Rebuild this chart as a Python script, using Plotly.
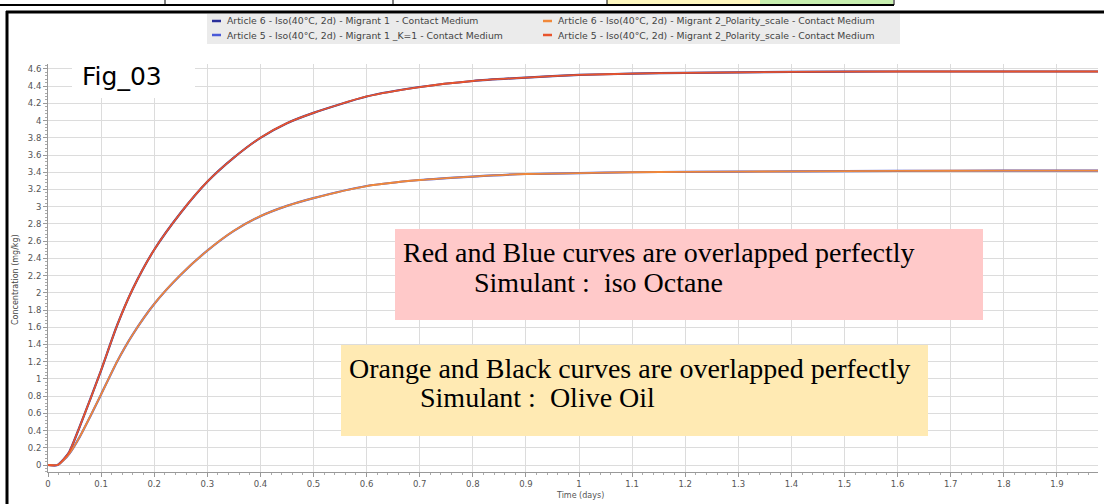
import plotly.graph_objects as go

# ---------------- data ----------------
time_days = [0, 0.018, 0.03, 0.04, 0.06, 0.08, 0.1, 0.13, 0.16, 0.2, 0.25, 0.3, 0.35,
             0.4, 0.45, 0.5, 0.6, 0.7, 0.8, 0.9, 1.0, 1.1, 1.2, 1.4, 1.6, 1.8, 2.0]
upper_conc = [0, 0, 0.07, 0.15, 0.45, 0.77, 1.1, 1.62, 2.05, 2.5, 2.93, 3.29, 3.57,
              3.8, 3.97, 4.09, 4.28, 4.39, 4.46, 4.5, 4.53, 4.545, 4.555, 4.565, 4.57, 4.57, 4.57]
lower_conc = [0, 0, 0.06, 0.13, 0.33, 0.57, 0.82, 1.2, 1.52, 1.87, 2.21, 2.49, 2.72,
              2.89, 3.01, 3.1, 3.24, 3.31, 3.35, 3.38, 3.39, 3.4, 3.405, 3.41, 3.415, 3.42, 3.42]

series_names = [
    "Article 6 - Iso(40°C, 2d) - Migrant 1  - Contact Medium",
    "Article 5 - Iso(40°C, 2d) - Migrant 1 _K=1 - Contact Medium",
    "Article 6 - Iso(40°C, 2d) - Migrant 2_Polarity_scale - Contact Medium",
    "Article 5 - Iso(40°C, 2d) - Migrant 2_Polarity_scale - Contact Medium",
]
series_colors = ["#2a2f9a", "#4a5ad8", "#f0883a", "#e8542c"]
series_values = [upper_conc, lower_conc, lower_conc, upper_conc]
draw_order = [0, 1, 2, 3]

x_ticks = [round(0.1 * i, 1) for i in range(0, 20)]
y_ticks = [round(0.2 * i, 1) for i in range(0, 24)]

# ---------------- geometry ----------------
W, H = 1104, 504
L, R, T, B = 48, 6, 64, 32
PW, PH = W - L - R, H - T - B


def px(x):
    return (x - L) / PW


def py(y):
    return (H - B - y) / PH


fig = go.Figure()
for i in draw_order:
    fig.add_trace(go.Scatter(
        x=time_days, y=series_values[i], mode="lines", name=series_names[i],
        line=dict(color=series_colors[i], width=2.2 if i < 2 else 1.8,
                  shape="spline", smoothing=0.6),
        showlegend=False))

shapes = []
annotations = []

# top strip (table fragment)
shapes.append(dict(type="rect", xref="paper", yref="paper", x0=px(607), x1=px(760),
                   y0=py(5), y1=py(0), fillcolor="#fff8c0", line=dict(width=0), layer="above"))
shapes.append(dict(type="rect", xref="paper", yref="paper", x0=px(760), x1=px(893),
                   y0=py(5), y1=py(0), fillcolor="#c8f0b0", line=dict(width=0), layer="above"))
shapes.append(dict(type="line", xref="paper", yref="paper", x0=px(0), x1=px(894),
                   y0=py(5), y1=py(5), line=dict(color="black", width=2), layer="above"))
for xd in [165, 393, 607, 894]:
    shapes.append(dict(type="line", xref="paper", yref="paper", x0=px(xd), x1=px(xd),
                       y0=py(0), y1=py(5), line=dict(color="black", width=1), layer="above"))
# outer frame
shapes.append(dict(type="line", xref="paper", yref="paper", x0=px(6), x1=px(1104),
                   y0=py(12), y1=py(12), line=dict(color="black", width=3), layer="above"))
shapes.append(dict(type="line", xref="paper", yref="paper", x0=px(7), x1=px(7),
                   y0=py(11), y1=py(504), line=dict(color="black", width=3), layer="above"))

# legend box
shapes.append(dict(type="rect", xref="paper", yref="paper", x0=px(207), x1=px(900),
                   y0=py(44), y1=py(14), fillcolor="#ebebeb", line=dict(width=0), layer="above"))
leg_pos = [(212, 21), (212, 35), (543, 21), (543, 35)]
for i, (lx, ly) in enumerate(leg_pos):
    shapes.append(dict(type="line", xref="paper", yref="paper", x0=px(lx), x1=px(lx + 9),
                       y0=py(ly), y1=py(ly), line=dict(color=series_colors[i], width=2.5),
                       layer="above"))
    annotations.append(dict(xref="paper", yref="paper", x=px(lx + 13), y=py(ly),
                            text=series_names[i], showarrow=False, xanchor="left",
                            yanchor="middle",
                            font=dict(family="DejaVu Sans", size=9.3, color="#444")))

# Fig_03 label with white backing
shapes.append(dict(type="rect", xref="paper", yref="paper", x0=px(72), x1=px(195),
                   y0=py(98), y1=py(60), fillcolor="white", line=dict(width=0), layer="above"))
annotations.append(dict(xref="paper", yref="paper", x=px(80), y=py(76), text="Fig_03",
                        showarrow=False, xanchor="left", yanchor="middle",
                        font=dict(family="DejaVu Sans", size=25, color="black")))

# note boxes
shapes.append(dict(type="rect", xref="paper", yref="paper", x0=px(395), x1=px(983),
                   y0=py(320), y1=py(229), fillcolor="#ffc9c9", line=dict(width=0), layer="above"))
shapes.append(dict(type="rect", xref="paper", yref="paper", x0=px(341), x1=px(928),
                   y0=py(436), y1=py(345), fillcolor="#ffeab3", line=dict(width=0), layer="above"))
note_font = dict(family="Liberation Serif", size=28, color="black")
annotations += [
    dict(xref="paper", yref="paper", x=px(401), y=py(252), showarrow=False, xanchor="left",
         yanchor="middle", text="Red and Blue curves are overlapped perfectly", font=note_font),
    dict(xref="paper", yref="paper", x=px(472), y=py(282), showarrow=False, xanchor="left",
         yanchor="middle", text="Simulant :  iso Octane", font=note_font),
    dict(xref="paper", yref="paper", x=px(347), y=py(368), showarrow=False, xanchor="left",
         yanchor="middle", text="Orange and Black curves are overlapped perfectly", font=note_font),
    dict(xref="paper", yref="paper", x=px(418), y=py(397), showarrow=False, xanchor="left",
         yanchor="middle", text="Simulant :  Olive Oil", font=note_font),
]

# axis titles
annotations.append(dict(xref="paper", yref="paper", x=px(580), y=py(495), text="Time (days)",
                        showarrow=False, xanchor="center", yanchor="middle",
                        font=dict(family="DejaVu Sans", size=8, color="#555")))
annotations.append(dict(xref="paper", yref="paper", x=px(15), y=py(280),
                        text="Concentration (mg/kg)", showarrow=False, textangle=-90,
                        xanchor="center", yanchor="middle",
                        font=dict(family="DejaVu Sans", size=8, color="#444")))

x_max = PW / 531.0
y_unit = 86.1
y_min = -7 / y_unit
y_max = (PH - 7) / y_unit

tick_font = dict(family="DejaVu Sans", size=8.5, color="#555")
fig.update_layout(
    width=W, height=H, margin=dict(l=L, r=R, t=T, b=B, pad=0),
    paper_bgcolor="white", plot_bgcolor="white",
    shapes=shapes, annotations=annotations,
    xaxis=dict(range=[0, x_max], tickvals=x_ticks, ticktext=[f"{v:g}" for v in x_ticks],
               showgrid=True, gridcolor="#dcdcdc", gridwidth=1, zeroline=False,
               showline=True, linecolor="#999", linewidth=1, ticks="outside",
               ticklen=4, tickcolor="#999",
               minor=dict(dtick=0.02, ticks="outside", ticklen=2, tickcolor="#aaa", showgrid=False),
               tickfont=tick_font),
    yaxis=dict(range=[y_min, y_max], tickvals=y_ticks, ticktext=[f"{v:g}" for v in y_ticks],
               showgrid=True, gridcolor="#dcdcdc", gridwidth=1, zeroline=False,
               showline=True, linecolor="#999", linewidth=1, ticks="outside",
               ticklen=4, tickcolor="#999",
               minor=dict(dtick=0.04, ticks="outside", ticklen=2, tickcolor="#aaa", showgrid=False),
               tickfont=tick_font),
)

fig.write_html("out.html", config={"displayModeBar": False},
               post_script="document.body.style.margin='0';document.body.style.padding='0';")
